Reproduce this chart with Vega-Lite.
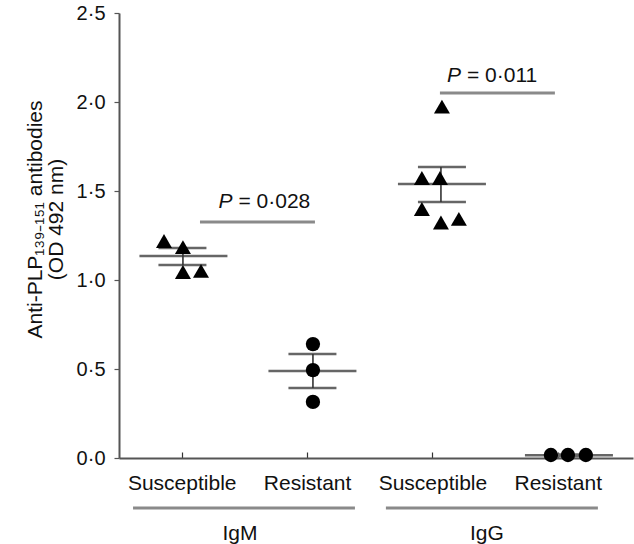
{
  "$schema": "https://vega.github.io/schema/vega-lite/v6.json",
  "width": 514,
  "height": 445,
  "autosize": {"type": "none"},
  "padding": {"left": 119, "top": 13, "right": 1, "bottom": 86},
  "background": "white",
  "config": {"view": {"stroke": null}, "font": "Liberation Sans"},
  "datasets": {
    "points": [
      {"group": "IgM", "status": "Susceptible", "x": 0.859, "y": 1.219},
      {"group": "IgM", "status": "Susceptible", "x": 1.010, "y": 1.185},
      {"group": "IgM", "status": "Susceptible", "x": 1.010, "y": 1.045},
      {"group": "IgM", "status": "Susceptible", "x": 1.154, "y": 1.051},
      {"group": "IgM", "status": "Resistant", "x": 2.047, "y": 0.640},
      {"group": "IgM", "status": "Resistant", "x": 2.047, "y": 0.494},
      {"group": "IgM", "status": "Resistant", "x": 2.047, "y": 0.315},
      {"group": "IgG", "status": "Susceptible", "x": 3.076, "y": 1.974},
      {"group": "IgG", "status": "Susceptible", "x": 2.916, "y": 1.573},
      {"group": "IgG", "status": "Susceptible", "x": 3.060, "y": 1.573},
      {"group": "IgG", "status": "Susceptible", "x": 2.916, "y": 1.399},
      {"group": "IgG", "status": "Susceptible", "x": 3.068, "y": 1.323},
      {"group": "IgG", "status": "Susceptible", "x": 3.211, "y": 1.343},
      {"group": "IgG", "status": "Resistant", "x": 3.945, "y": 0.017},
      {"group": "IgG", "status": "Resistant", "x": 4.081, "y": 0.017},
      {"group": "IgG", "status": "Resistant", "x": 4.224, "y": 0.017}
    ],
    "summary": [
      {"group": "IgM-S", "kind": "mean", "x": 1.014, "y": 1.135},
      {"group": "IgM-S", "kind": "sem", "x": 1.006, "y": 1.180},
      {"group": "IgM-S", "kind": "sem", "x": 1.006, "y": 1.084},
      {"group": "IgM-R", "kind": "mean", "x": 2.043, "y": 0.489},
      {"group": "IgM-R", "kind": "sem", "x": 2.043, "y": 0.584},
      {"group": "IgM-R", "kind": "sem", "x": 2.043, "y": 0.393},
      {"group": "IgG-S", "kind": "mean", "x": 3.076, "y": 1.539},
      {"group": "IgG-S", "kind": "sem", "x": 3.076, "y": 1.635},
      {"group": "IgG-S", "kind": "sem", "x": 3.076, "y": 1.438},
      {"group": "IgG-R", "kind": "mean", "x": 4.089, "y": 0.015},
      {"group": "IgG-R", "kind": "sem", "x": 4.089, "y": 0.020},
      {"group": "IgG-R", "kind": "sem", "x": 4.089, "y": 0.010}
    ],
    "whiskers": [
      {"group": "IgM-S", "x": 1.010, "y": 1.084, "y2": 1.180},
      {"group": "IgM-R", "x": 2.047, "y": 0.393, "y2": 0.584},
      {"group": "IgG-S", "x": 3.068, "y": 1.438, "y2": 1.635}
    ],
    "lines": [
      {"kind": "bracket", "x": 1.146, "x2": 2.063, "y": 1.326},
      {"kind": "bracket", "x": 3.060, "x2": 3.977, "y": 2.051},
      {"kind": "group", "x": 0.612, "x2": 2.382, "y": -0.281},
      {"kind": "group", "x": 2.629, "x2": 4.320, "y": -0.281}
    ],
    "texts": [
      {"kind": "p", "x": 1.293, "y": 1.404, "text": "P"},
      {"kind": "eq", "x": 1.453, "y": 1.404, "text": "= 0·028"},
      {"kind": "p", "x": 3.116, "y": 2.112, "text": "P"},
      {"kind": "eq", "x": 3.276, "y": 2.112, "text": "= 0·011"},
      {"kind": "group", "x": 1.465, "y": -0.461, "text": "IgM"},
      {"kind": "group", "x": 3.435, "y": -0.461, "text": "IgG"}
    ]
  },
  "encoding": {
    "x": {
      "field": "x",
      "type": "quantitative",
      "scale": {"domain": [0.5, 4.6], "nice": false, "zero": false},
      "axis": {
        "values": [1, 2, 3, 4],
        "labelExpr": "datum.value % 2 == 1 ? 'Susceptible' : 'Resistant'",
        "title": null,
        "grid": false,
        "domainColor": "#555555",
        "domainWidth": 2,
        "tickColor": "#333333",
        "tickSize": -6,
        "tickWidth": 1.2,
        "labelFont": "Liberation Sans",
        "labelFontSize": 21,
        "labelColor": "#111111",
        "labelBaseline": "alphabetic",
        "labelPadding": 37,
        "labelFlush": false,
        "labelOverlap": false
      }
    },
    "y": {
      "field": "y",
      "type": "quantitative",
      "scale": {"domain": [0, 2.5], "nice": false, "zero": false},
      "axis": {
        "values": [0, 0.5, 1, 1.5, 2, 2.5],
        "labelExpr": "replace(format(datum.value, '.1f'), '.', '·')",
        "title": ["Anti-PLP₁₃₉₋₁₅₁ antibodies", "(OD 492 nm)"],
        "titleFont": "Liberation Sans",
        "titleFontSize": 21,
        "titleFontWeight": "normal",
        "titleColor": "#111111",
        "titleAngle": -90,
        "titleX": -95,
        "titleY": 206,
        "titleAlign": "center",
        "titleBaseline": "top",
        "titleLineHeight": 21,
        "grid": false,
        "domainColor": "#555555",
        "domainWidth": 2,
        "tickColor": "#555555",
        "tickSize": 5,
        "tickWidth": 1.2,
        "labelFont": "Liberation Sans",
        "labelFontSize": 20,
        "labelColor": "#111111",
        "labelPadding": 9,
        "labelFlush": false
      }
    }
  },
  "layer": [
    {
      "data": {"name": "lines"},
      "mark": {"type": "rule", "color": "#8a8a8a", "strokeWidth": 3},
      "encoding": {"x2": {"field": "x2"}}
    },
    {
      "data": {"name": "summary"},
      "transform": [{"filter": "datum.kind == 'mean'"}],
      "mark": {"type": "tick", "orient": "horizontal", "size": 88, "thickness": 2.5, "color": "#666666", "opacity": 1}
    },
    {
      "data": {"name": "summary"},
      "transform": [{"filter": "datum.kind == 'sem'"}],
      "mark": {"type": "tick", "orient": "horizontal", "size": 48, "thickness": 2.5, "color": "#666666", "opacity": 1}
    },
    {
      "data": {"name": "whiskers"},
      "mark": {"type": "rule", "color": "#333333", "strokeWidth": 1.6},
      "encoding": {"y2": {"field": "y2"}}
    },
    {
      "data": {"name": "points"},
      "mark": {"type": "point", "filled": true, "opacity": 1, "color": "#000000"},
      "encoding": {
        "shape": {"field": "status", "type": "nominal", "scale": {"domain": ["Susceptible", "Resistant"], "range": ["triangle-up", "circle"]}, "legend": null},
        "size": {"field": "status", "type": "nominal", "scale": {"domain": ["Susceptible", "Resistant"], "range": [256, 205]}, "legend": null}
      }
    },
    {
      "data": {"name": "texts"},
      "transform": [{"filter": "datum.kind == 'p'"}],
      "mark": {"type": "text", "font": "Liberation Sans", "fontSize": 21, "fontStyle": "italic", "align": "left", "baseline": "alphabetic", "color": "#111111"},
      "encoding": {"text": {"field": "text"}}
    },
    {
      "data": {"name": "texts"},
      "transform": [{"filter": "datum.kind == 'eq'"}],
      "mark": {"type": "text", "font": "Liberation Sans", "fontSize": 21, "align": "left", "baseline": "alphabetic", "color": "#111111"},
      "encoding": {"text": {"field": "text"}}
    },
    {
      "data": {"name": "texts"},
      "transform": [{"filter": "datum.kind == 'group'"}],
      "mark": {"type": "text", "font": "Liberation Sans", "fontSize": 21, "align": "center", "baseline": "alphabetic", "color": "#111111"},
      "encoding": {"text": {"field": "text"}}
    }
  ]
}
